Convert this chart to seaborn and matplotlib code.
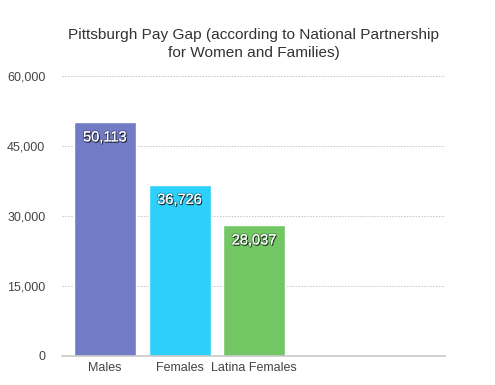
import matplotlib
matplotlib.use('Agg')
import matplotlib.pyplot as plt
import matplotlib.patheffects as pe
import seaborn as sns
import pandas as pd

# data
categories = ['Males', 'Females', 'Latina Females']
pay = [50113, 36726, 28037]
colors = ['#717BC6', '#2DCFFB', '#72C764']
yticks = [0, 15000, 30000, 45000, 60000]

df = pd.DataFrame({'group': categories, 'pay': pay})

sns.set_style('white')
plt.rcParams['font.family'] = ['Liberation Sans', 'DejaVu Sans']

fig = plt.figure(figsize=(4.95, 3.85), dpi=100)
ax = fig.add_axes([62/495, 1 - 356/385, 383/495, 280/385])

sns.barplot(data=df, x='group', y='pay', hue='group', palette=colors,
            width=0.83, saturation=1, legend=False, ax=ax)

ax.set_xlim(-0.576, 4.558)
ax.set_ylim(0, 60000)
ax.set_yticks(yticks)
ax.set_yticklabels([f'{v:,}' for v in yticks])
ax.yaxis.grid(True, linestyle=(0, (1.5, 1.5)), color='#c4c4c4', linewidth=0.7)
ax.set_axisbelow(True)
for s in ['top', 'right', 'left']:
    ax.spines[s].set_visible(False)
ax.spines['bottom'].set_color('#c8c8c8')
ax.spines['bottom'].set_linewidth(1.2)
ax.tick_params(axis='both', length=0, labelsize=9, colors='#444444')
ax.tick_params(axis='y', pad=12)
ax.tick_params(axis='x', pad=4)
ax.set_xlabel('')
ax.set_ylabel('')

for i, v in enumerate(pay):
    ax.annotate(f'{v:,}', (i, v), xytext=(0, -11), textcoords='offset points',
                ha='center', va='center', color='white', fontsize=10.5,
                path_effects=[pe.withStroke(linewidth=1.6, foreground=(0, 0, 0, 0.25)),
                              pe.withSimplePatchShadow(offset=(0.7, -0.9),
                                                       shadow_rgbFace='black', alpha=0.7)])

# title is centred over the plot area, not the figure
fig.text(253.5/495, 1 - 28/385,
         'Pittsburgh Pay Gap (according to National Partnership\nfor Women and Families)',
         ha='center', va='top', fontsize=11.1, color='#333333', linespacing=1.4)

fig.savefig('out.png', dpi=100)
